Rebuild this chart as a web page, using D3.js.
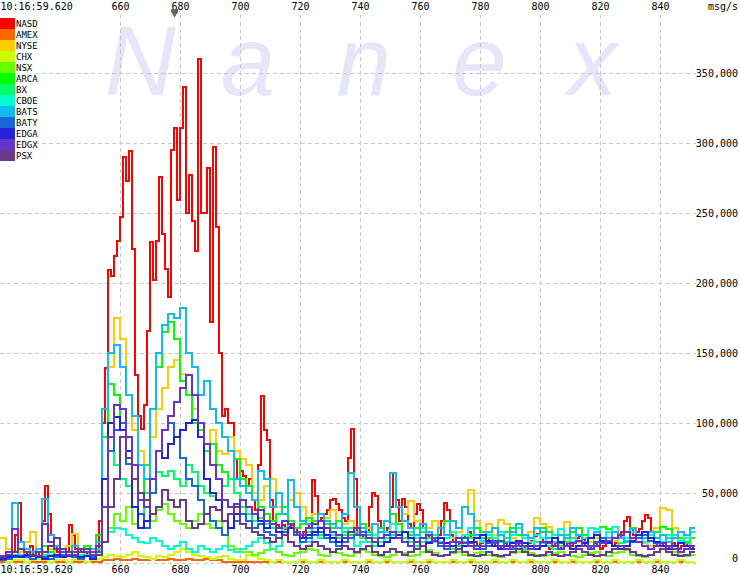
<!DOCTYPE html>
<html><head><meta charset="utf-8">
<script src="https://cdn.jsdelivr.net/npm/d3@7"></script>
<style>
body{margin:0;background:#fff;}
svg{display:block;}
text{font-family:"DejaVu Sans Mono",monospace;}
</style></head><body>
<svg id="c" width="740" height="575"></svg>
<script>
// ---------- DATA ----------
const seriesNames  = ["NASD","AMEX","NYSE","CHX","NSX","ARCA","BX","CBOE","BATS","BATY","EDGA","EDGX","PSX"];
const seriesColors = ["#ff0000","#ff6600","#ffcc00","#ccff00","#66ff00","#00ff00","#00ff66","#00ffcc","#11bbee","#1a66dd","#2222dd","#6633cc","#6a3a8a"];
const timeTicks = [620,660,680,700,720,740,760,780,800,820,840];
const timeStartLabel = "10:16:59.620";
const yTicks = [0,50000,100000,150000,200000,250000,300000,350000];
const unitLabel = "msg/s";
const markerTime = 678.2;
const watermark = ["N","a","n","e","x"];
const startTime = 620, endTime = 851;

// values in thousands of msg/s; NASD sampled every 1 unit from 620, others every 2 units from 620
const nasd = [
5,3,4,6,8,20,43,15,6,8,
12,6,5,8,30,55,35,20,12,8,
6,5,8,27,20,10,8,10,8,6,
5,6,8,30,100,139,209,205,219,230,
247,290,273,294,224,134,105,96,113,166,
229,202,230,276,235,210,190,295,311,259,
311,340,250,277,244,223,360,250,250,282,
172,297,240,150,105,110,100,100,74,60,
66,62,55,60,45,38,70,119,95,88,
45,30,27,25,27,24,26,27,25,20,
18,22,25,28,59,48,30,32,35,38,
45,46,42,38,32,30,75,96,60,20,
18,20,22,40,50,48,30,25,22,25,
40,64,45,30,46,40,28,25,35,42,
38,25,20,18,15,18,20,30,43,38,
20,15,12,14,18,20,22,18,15,12,
14,16,18,16,14,12,10,12,14,12,
10,12,15,12,10,12,14,16,19,21,
18,14,12,10,12,14,12,10,12,14,
12,14,18,19,17,12,10,12,14,12,
10,12,15,14,12,14,18,22,30,33,
24,20,22,24,30,34,32,22,15,12,
14,12,10,12,14,12,10,12,14,12,
10,12];
const amex = [
1,1,1,1,1,1,1,1,1,1,1,1,1,1,1,1,1,
2,2,3,2,2,3,2,2,3,2,2,3,2,2,3,2,2,3,2,2,1,1,1,1,
1,1,1,1,1,1,1,1,1,1,1,1,1,1,1,
1,1,1,1,1,1,1,1,1,1,1,1,1,1,1,
1,1,1,1,1,1,1,1,1,1,1,1,1,1,1,
1,1,1,1,1,1,1,1,1,1,1,1,1,1,1,
1,1,1,1,1,1,1,1,1,1,1,1,1,1,1];
const nyse = [
18,10,6,8,15,22,8,12,10,6,5,12,21,8,6,5,8,
60,140,175,160,120,95,80,70,90,110,125,140,145,135,120,110,90,85,95,80,78,90,80,74,
70,50,45,55,60,40,35,45,50,40,30,35,30,32,38,
30,28,30,25,22,25,28,25,30,35,28,35,44,30,28,
25,30,25,20,18,22,40,52,30,22,28,20,31,28,18,
15,20,22,32,28,26,18,15,29,22,15,12,15,18,15,
14,16,18,22,18,15,14,12,25,39,38,25,15,20,18];
const chx = [
2,1,2,2,1,2,3,2,1,2,2,1,2,2,1,2,3,
4,6,5,4,6,8,5,4,3,5,4,6,8,10,8,6,5,4,3,4,5,3,2,2,
6,5,3,2,1,2,1,1,1,2,1,1,2,1,1,
1,2,1,1,1,2,1,1,2,1,1,1,2,1,1,
2,1,1,1,2,1,1,2,1,1,1,2,1,1,2,
1,1,2,1,1,1,2,1,1,2,1,1,1,2,1,
1,2,1,1,1,2,1,1,2,1,1,1,2,1,1];
const nsx = [
3,4,5,4,6,8,5,6,8,5,4,6,8,10,6,5,8,
15,25,35,30,40,28,35,25,30,38,42,35,30,28,25,30,35,28,25,30,20,12,10,8,
8,6,7,9,10,8,6,5,7,8,10,9,6,5,8,
7,6,5,7,9,8,6,5,4,6,8,7,5,6,8,
9,7,5,6,7,8,6,5,7,8,6,5,4,6,7,
8,9,7,6,5,6,7,8,6,5,4,6,7,8,6,
5,7,8,9,6,5,4,6,8,10,12,8,6,5,6];
const arca = [
4,6,8,6,5,8,10,12,8,6,5,6,8,10,12,8,20,
90,128,120,100,80,60,50,70,110,140,165,172,160,130,120,100,95,80,85,70,65,60,74,60,
55,45,40,35,30,35,40,30,25,28,32,30,35,28,25,
30,22,20,25,28,22,18,25,30,35,28,22,20,25,22,
18,20,25,30,22,18,15,20,25,22,18,15,20,22,25,
20,18,15,20,25,22,18,15,20,22,25,20,18,22,26,
24,18,20,22,25,18,15,20,22,26,24,20,18,15,18];
const bx = [
3,5,6,5,4,6,8,6,5,4,6,5,4,6,8,5,10,
60,80,70,60,55,40,35,50,60,65,62,66,60,55,70,65,55,50,48,45,55,60,50,40,
35,30,32,28,25,22,25,28,20,18,22,25,20,18,15,
18,20,25,22,18,15,12,15,18,20,22,18,15,12,15,
18,20,15,12,10,12,15,18,20,16,14,12,15,18,15,
12,10,12,15,14,12,10,12,15,18,16,14,12,15,18,
15,12,14,16,18,15,12,10,12,15,18,20,16,14,12];
const cboe = [
3,4,5,6,8,6,5,8,6,5,4,6,5,8,6,5,8,
15,22,25,24,20,18,15,14,18,16,12,10,12,15,10,8,12,10,8,10,12,9,8,10,
12,15,18,14,10,12,20,15,12,18,15,22,18,25,20,
15,25,18,12,15,18,20,15,22,28,20,15,22,18,25,
20,15,12,18,22,15,20,25,18,15,20,18,22,15,20,
25,18,15,20,18,15,20,24,18,15,20,18,25,24,18,
22,26,20,18,22,18,15,20,18,15,20,18,15,18,22];
const bats = [
5,8,43,15,10,8,10,46,20,12,10,8,12,10,8,10,15,
110,150,156,140,120,105,70,60,110,150,170,178,175,182,150,140,120,130,110,100,90,80,60,55,
50,45,66,60,40,50,35,59,40,30,28,25,35,30,28,
25,35,64,40,25,20,28,22,30,64,40,30,25,20,28,
22,18,25,20,30,25,40,35,20,18,22,25,20,15,22,
28,20,18,25,22,18,15,20,18,25,20,15,18,22,15,
18,22,18,15,24,20,18,22,18,20,15,18,22,20,25];
const baty = [
2,3,4,5,4,3,5,4,3,4,6,5,4,3,5,4,8,
40,80,95,100,71,60,35,25,50,80,95,100,90,75,60,55,45,35,30,25,20,25,30,35,
30,25,28,22,20,18,22,25,20,15,18,20,22,18,15,
12,15,18,20,22,18,15,12,15,18,20,15,12,10,12,
15,18,12,10,12,15,18,14,12,10,12,14,16,12,10,
12,14,12,10,12,15,18,14,12,10,12,14,12,15,18,
14,12,10,12,15,18,20,16,14,12,10,12,14,12,10];
const edga = [
3,4,5,4,6,5,4,3,5,6,4,5,6,4,5,3,6,
60,100,104,95,80,40,25,30,60,80,75,85,90,95,100,102,90,60,50,45,30,25,35,45,
40,35,30,25,28,22,20,25,22,18,20,22,25,20,18,
15,18,22,25,20,18,15,12,15,18,20,22,18,15,12,
14,16,18,14,12,10,12,15,18,20,16,12,10,12,14,
16,14,12,10,12,15,18,15,12,10,12,14,18,20,16,
14,12,10,12,16,20,22,18,15,12,10,12,14,12,10];
const edgx = [
5,8,24,10,8,6,8,28,15,10,8,6,8,10,8,6,12,
40,90,113,110,90,70,45,40,60,80,95,105,115,125,134,120,100,85,70,60,45,40,42,45,
40,35,38,30,28,25,30,28,22,20,25,28,30,25,22,
20,18,22,25,20,18,15,18,20,22,18,15,12,15,18,
20,16,14,12,15,18,14,12,10,12,14,16,12,10,12,
14,12,10,12,15,14,12,10,12,14,16,12,10,12,14,
16,18,20,22,18,15,12,10,12,14,12,10,8,10,12];
const psx = [
4,6,8,10,8,6,5,8,12,18,10,8,6,8,10,8,6,
15,40,60,90,75,60,50,45,35,40,52,45,40,45,30,25,28,35,40,38,30,35,40,28,
25,22,20,18,15,18,20,15,12,10,12,15,12,10,8,
10,12,10,8,10,12,8,6,8,10,8,6,8,10,12,
8,6,5,6,8,10,8,6,5,6,8,6,5,6,8,
10,8,6,5,6,8,6,5,6,8,10,8,6,5,6,
8,10,12,10,8,6,5,6,8,10,8,6,5,6,8];
const seriesValues = [nasd,amex,nyse,chx,nsx,arca,bx,cboe,bats,baty,edga,edgx,psx];
const seriesSteps  = [1,2,2,2,2,2,2,2,2,2,2,2,2];

// ---------- CHART ----------
const svg = d3.select("#c");
const W = 740, H = 575;
const plotLeft = 0, plotRight = 693, plotTop = 15, plotBottom = 563;
const x = d3.scaleLinear().domain([startTime, endTime]).range([plotLeft, plotRight]);
const y = d3.scaleLinear().domain([0, 350000]).range([plotBottom, 73]);

svg.append("rect").attr("width", W).attr("height", H).attr("fill", "#fff");

// watermark
const wmX = d3.scalePoint().domain(d3.range(watermark.length)).range([105, 568]);
svg.append("g").selectAll("text").data(watermark).join("text")
  .attr("x", (d, i) => wmX(i)).attr("y", 95)
  .style("font-family", "'Liberation Sans', Arial, sans-serif")
  .style("font-style", "italic").style("font-size", "98px")
  .attr("fill", "#e6e6fa").text(d => d);

// grid
const grid = svg.append("g").attr("stroke", "#c8c8c8").attr("stroke-dasharray", "4,3")
  .attr("shape-rendering", "crispEdges");
grid.selectAll("line.v").data(timeTicks.slice(1)).join("line").attr("class", "v")
  .attr("x1", d => Math.round(x(d)) + 0.5).attr("x2", d => Math.round(x(d)) + 0.5)
  .attr("y1", plotTop).attr("y2", plotBottom);
grid.selectAll("line.h").data(yTicks).join("line").attr("class", "h")
  .attr("x1", plotLeft).attr("x2", plotRight + 3)
  .attr("y1", d => Math.round(y(d)) + 0.5).attr("y2", d => Math.round(y(d)) + 0.5);

// series
svg.append("clipPath").attr("id", "clp").append("rect")
  .attr("x", plotLeft).attr("y", plotTop).attr("width", plotRight - plotLeft + 2).attr("height", plotBottom - plotTop + 2);
const line = d3.line().x(d => x(d.t)).y(d => y(d.v * 1000)).curve(d3.curveStepAfter);
const gLines = svg.append("g").attr("clip-path", "url(#clp)");
d3.range(seriesNames.length).forEach(si => {
  const step = seriesSteps[si];
  const pts = seriesValues[si].map((v, i) => ({t: startTime + i * step, v}));
  const last = pts[pts.length - 1];
  pts.push({t: last.t + step, v: last.v});
  gLines.append("path").datum(pts).attr("d", line)
    .attr("fill", "none").attr("stroke", seriesColors[si]).attr("stroke-width", 2)
    .attr("stroke-linejoin", "miter").attr("shape-rendering", "crispEdges");
});

// axes text
function xLabel(d) { return d === startTime ? timeStartLabel : String(d); }
const axTop = svg.append("g").attr("transform", "translate(0,10)")
  .call(d3.axisTop(x).tickValues(timeTicks).tickFormat(xLabel).tickSize(0).tickPadding(0));
const axBot = svg.append("g").attr("transform", "translate(0,563)")
  .call(d3.axisBottom(x).tickValues(timeTicks).tickFormat(xLabel).tickSize(0).tickPadding(0));
[axTop, axBot].forEach(a => {
  a.select(".domain").remove();
  a.selectAll("text").style("font-family", "'DejaVu Sans Mono', monospace").style("font-size", "10px").attr("fill", "#000");
  a.selectAll(".tick").filter(d => d === startTime).select("text").attr("text-anchor", "start");
});
axTop.selectAll("text").attr("dy", 0);
axBot.selectAll("text").attr("dy", 0).attr("y", 10);

const axR = svg.append("g").attr("transform", "translate(738,0)")
  .call(d3.axisRight(y).tickValues(yTicks).tickFormat(d3.format(",")).tickSize(0).tickPadding(0));
axR.select(".domain").remove();
axR.selectAll("text").attr("text-anchor", "end").attr("x", 0)
  .style("font-family", "'DejaVu Sans Mono', monospace").style("font-size", "10px").attr("fill", "#000");
axR.selectAll(".tick").filter(d => d === 0).select("text").attr("y", -5);

svg.append("text").attr("x", 738).attr("y", 10).attr("text-anchor", "end")
  .style("font-size", "10px").text(unitLabel);

// marker
const mx = x(markerTime);
svg.append("path")
  .attr("d", `M${mx - 3.5},9 H${mx + 3.5} V12 L${mx},17.5 L${mx - 3.5},12 Z`)
  .attr("fill", "#666");

// legend
const leg = svg.append("g");
leg.append("rect").attr("x", 0).attr("y", 16).attr("width", 36).attr("height", seriesNames.length * 11 + 3).attr("fill", "#fff");
const li = leg.selectAll("g.it").data(seriesNames).join("g").attr("class", "it")
  .attr("transform", (d, i) => `translate(0,${18 + i * 11})`);
li.append("rect").attr("width", 15).attr("height", 11).attr("fill", (d, i) => seriesColors[i]);
li.append("text").attr("x", 16).attr("y", 9).style("font-size", "9px").attr("fill", "#000").text(d => d);
</script>
</body></html>
